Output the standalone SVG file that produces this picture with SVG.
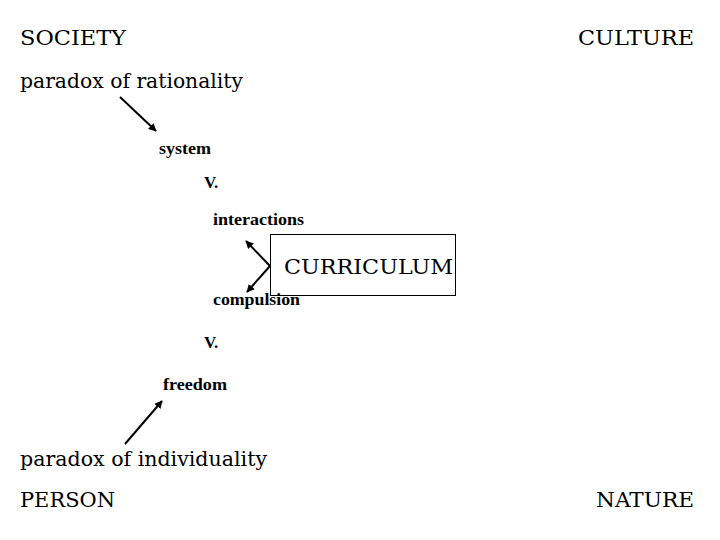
<svg xmlns="http://www.w3.org/2000/svg" width="720" height="540" viewBox="0 0 720 540">
<style>
.big{font-family:'DejaVu Serif','Liberation Serif',serif;font-size:21px;fill:#000}
.sm{font-family:'Liberation Serif','DejaVu Serif',serif;font-size:17px;font-weight:bold;fill:#000}
.ln{stroke:#000;stroke-width:2;fill:none}
</style>
<defs><marker id="ah" viewBox="0 0 10 10" refX="9" refY="5" markerWidth="4" markerHeight="4" orient="auto-start-reverse"><path d="M0,0L10,5L0,10z" fill="#000"/></marker></defs>
<rect width="720" height="540" fill="#fff"/>
<g id="society"><text class="big" x="20" y="45" textLength="106" lengthAdjust="spacingAndGlyphs">SOCIETY</text></g>
<g id="culture"><text class="big" x="578" y="45" textLength="116" lengthAdjust="spacingAndGlyphs">CULTURE</text></g>
<g id="rationality"><text class="big" x="20" y="88" textLength="223" lengthAdjust="spacingAndGlyphs">paradox of rationality</text></g>
<g id="system"><text class="sm" x="159" y="154" textLength="52" lengthAdjust="spacingAndGlyphs">system</text></g>
<g id="v1"><text class="sm" x="204" y="188">V.</text></g>
<g id="interactions"><text class="sm" x="213" y="225" textLength="91" lengthAdjust="spacingAndGlyphs">interactions</text></g>
<g id="curriculum"><rect x="270.500" y="234.500" width="185" height="61" fill="none" stroke="#000"/><text class="big" x="284" y="274" textLength="169" lengthAdjust="spacingAndGlyphs">CURRICULUM</text></g>
<g id="compulsion"><text class="sm" x="213" y="305" textLength="87" lengthAdjust="spacingAndGlyphs">compulsion</text></g>
<g id="v2"><text class="sm" x="204" y="348">V.</text></g>
<g id="freedom"><text class="sm" x="163" y="390" textLength="64" lengthAdjust="spacingAndGlyphs">freedom</text></g>
<g id="individuality"><text class="big" x="20" y="466" textLength="247" lengthAdjust="spacingAndGlyphs">paradox of individuality</text></g>
<g id="person"><text class="big" x="20" y="507" textLength="95" lengthAdjust="spacingAndGlyphs">PERSON</text></g>
<g id="nature"><text class="big" x="596" y="507" textLength="98" lengthAdjust="spacingAndGlyphs">NATURE</text></g>
<g id="connectors">
<line class="ln" x1="120" y1="97" x2="156" y2="131" marker-end="url(#ah)"/>
<line class="ln" x1="270" y1="266" x2="246" y2="241" marker-end="url(#ah)"/>
<line class="ln" x1="270" y1="266" x2="247" y2="292" marker-end="url(#ah)"/>
<line class="ln" x1="125" y1="444" x2="162" y2="401" marker-end="url(#ah)"/>
</g>
</svg>
